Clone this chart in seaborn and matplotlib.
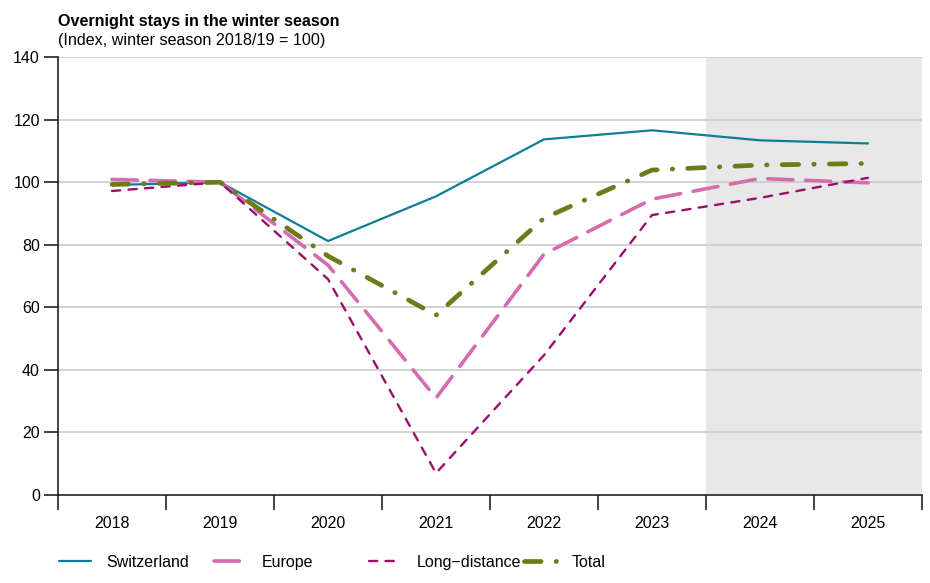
import matplotlib
matplotlib.use("Agg")
import matplotlib.pyplot as plt
import seaborn as sns
import numpy as np

years = ["2018", "2019", "2020", "2021", "2022", "2023", "2024", "2025"]
switzerland = [99.1, 100.0, 81.2, 95.5, 113.7, 116.6, 113.4, 112.4]
europe = [100.9, 100.0, 73.5, 31.0, 77.0, 94.6, 101.2, 99.8]
long_distance = [97.2, 100.0, 69.0, 7.0, 44.7, 89.5, 95.0, 101.4]
total = [99.3, 100.0, 76.4, 57.5, 88.5, 103.9, 105.5, 106.0]
forecast_years = ["2024", "2025"]

sns.set_style("white")
plt.rcParams['font.family'] = ['Liberation Sans', 'DejaVu Sans']
plt.rcParams['text.color'] = 'black'
plt.rcParams['xtick.color'] = 'black'
plt.rcParams['ytick.color'] = 'black'

fig = plt.figure(figsize=(9.3, 5.83), dpi=100)
ax = fig.add_axes([0.0624, 0.151, 0.929, 0.751])

xs = np.arange(len(years))
fc = [years.index(y) for y in forecast_years]
ax.axvspan(fc[0] - 0.5, fc[-1] + 0.5, color="#e8e8e8", zorder=0, lw=0)

for v in range(20, 141, 20):
    ax.axhline(v, color="#cccccc", lw=1.2, zorder=1)

series = [
    ("Switzerland", switzerland, "#0f7d96", 1.6, None),
    ("Europe", europe, "#d56cae", 2.6, (7, 3.5)),
    ("Long\u2212distance", long_distance, "#9a0f6e", 1.7, (3.5, 3.5)),
    ("Total", total, "#6f7a1b", 3.4, (3.5, 3.2, 0.1, 3.2)),
]
for name, vals, col, lw, dash in series:
    sns.lineplot(x=xs, y=vals, ax=ax, color=col, lw=lw, label=name, zorder=3)
    l = ax.get_lines()[-1]
    if dash is not None:
        l.set_dashes(dash)
        l.set_dash_capstyle("round")

ax.set_xlim(-0.5, len(years) - 0.5)
ax.set_ylim(0, 140)
ax.set_yticks(range(0, 141, 20))
ax.set_xticks(np.arange(-0.5, len(years), 1.0))
ax.set_xticklabels([])
ax.set_xticks(xs, minor=True)
ax.set_xticklabels(years, minor=True)
ax.tick_params(axis="x", which="major", bottom=True, length=11, width=1.2, color="#222")
ax.tick_params(axis="x", which="minor", bottom=True, length=0, pad=15, labelsize=11.5)
ax.tick_params(axis="y", which="major", left=True, length=10, width=1.2, color="#222",
               labelsize=11.5, pad=3)
for s in ["top", "right"]:
    ax.spines[s].set_visible(False)
for s in ["left", "bottom"]:
    ax.spines[s].set_color("#222")
    ax.spines[s].set_linewidth(1.2)
ax.set_xlabel("")
ax.set_ylabel("")

ax.legend_.remove()
handles, labels = ax.get_legend_handles_labels()
# one legend per key, spaced evenly like the original
for i, (h, lab) in enumerate(zip(handles, labels)):
    fig.legend([h], [lab], loc="center left", bbox_to_anchor=(0.063 + i * 0.1667, 0.036),
               frameon=False, fontsize=11.5, handlelength=2.0, handletextpad=1.0,
               borderpad=0, borderaxespad=0)

fig.text(0.0624, 0.955, "Overnight stays in the winter season", fontsize=11.6, fontweight="bold")
fig.text(0.0624, 0.922, "(Index, winter season 2018/19 = 100)", fontsize=11.6)

fig.savefig("out.png", dpi=100)
